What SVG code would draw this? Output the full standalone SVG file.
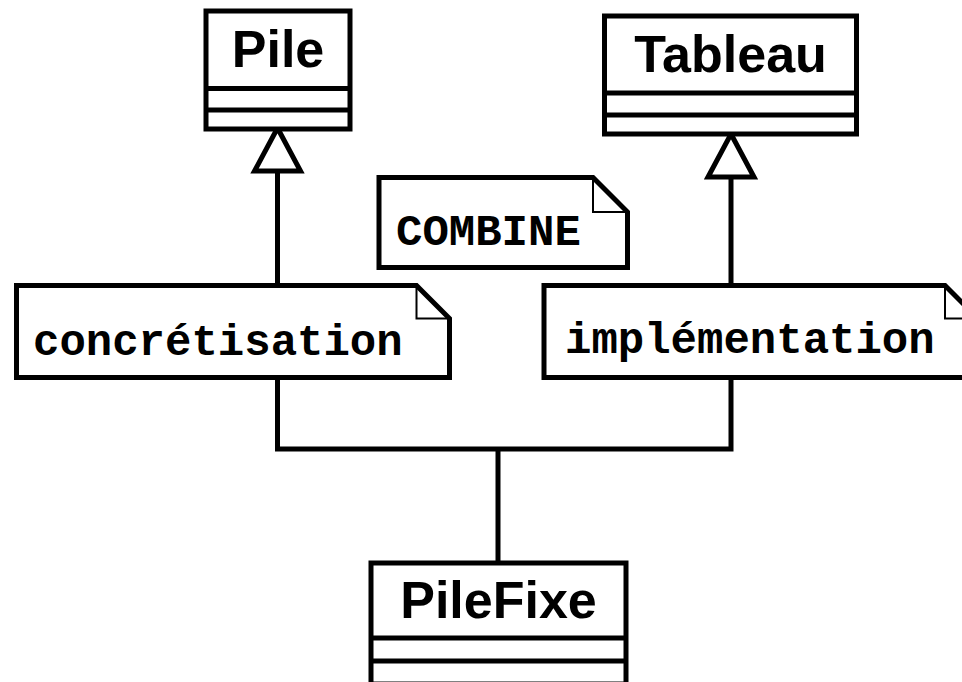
<svg xmlns="http://www.w3.org/2000/svg" width="962" height="682" viewBox="0 0 962 682">
<style>
.box{fill:#fff;stroke:#000;stroke-width:5}
.ln{fill:none;stroke:#000;stroke-width:5}
.fold{fill:none;stroke:#000;stroke-width:2}
.cls{font-family:"Liberation Sans",Arial,sans-serif;font-weight:bold;font-size:52px;text-anchor:middle;fill:#000}
.note{font-family:"Liberation Mono","Courier New",monospace;font-weight:bold;font-size:44px;fill:#000}
</style>
<rect width="962" height="682" fill="#fff"/>
<g id="connectors">
<polyline class="ln" points="277.5,377.5 277.5,449 731,449 731,377.5"/>
<line class="ln" x1="498" y1="449" x2="498" y2="563"/>
<line class="ln" x1="277.5" y1="171" x2="277.5" y2="285.5"/>
<polygon class="box" points="277.5,128 300.5,171 254.5,171"/>
<line class="ln" x1="731" y1="177" x2="731" y2="285.5"/>
<polygon class="box" points="731,134 754,177 708,177"/>
</g>
<g id="Pile">
<rect class="box" x="206" y="11" width="144" height="118"/>
<line class="ln" x1="206" y1="88.5" x2="350" y2="88.5"/>
<line class="ln" x1="206" y1="110" x2="350" y2="110"/>
<text class="cls" x="278" y="67">Pile</text>
</g>
<g id="Tableau">
<rect class="box" x="604.5" y="16" width="252" height="118"/>
<line class="ln" x1="604.5" y1="93" x2="856.5" y2="93"/>
<line class="ln" x1="604.5" y1="115" x2="856.5" y2="115"/>
<text class="cls" x="730.5" y="72">Tableau</text>
</g>
<g id="COMBINE">
<polygon class="box" points="379,177.5 593,177.5 627.5,212 627.5,267.5 379,267.5"/>
<polyline class="fold" points="593,177.5 593,212 627.5,212"/>
<text class="note" x="396" y="245">COMBINE</text>
</g>
<g id="concretisation">
<polygon class="box" points="16.5,285.5 416.5,285.5 449.5,318.5 449.5,377.5 16.5,377.5"/>
<polyline class="fold" points="416.5,285.5 416.5,318.5 449.5,318.5"/>
<text class="note" x="33" y="355">concrétisation</text>
</g>
<g id="implementation">
<polygon class="box" points="544,285.5 945,285.5 978,318.5 978,377.5 544,377.5"/>
<polyline class="fold" points="945,285.5 945,318.5 978,318.5"/>
<text class="note" x="565" y="353">implémentation</text>
</g>
<g id="PileFixe">
<rect class="box" x="371" y="563" width="255" height="121"/>
<line class="ln" x1="371" y1="638" x2="626" y2="638"/>
<line class="ln" x1="371" y1="661" x2="626" y2="661"/>
<text class="cls" x="498.5" y="618">PileFixe</text>
</g>
</svg>
